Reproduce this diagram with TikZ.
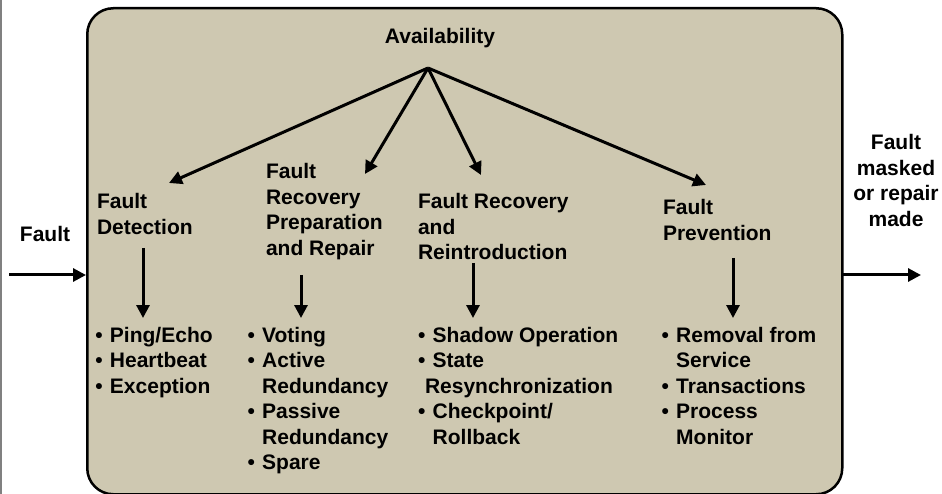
\documentclass[tikz,border=0pt]{standalone}
\usepackage{fontspec}
\setmainfont{Liberation Sans}
\usetikzlibrary{arrows.meta}
\definecolor{boxfill}{RGB}{206,200,177}
\newcommand{\bul}{\makebox[14.7pt][l]{\textbullet}}
\newcommand{\ind}{\hspace*{14.7pt}}
\begin{document}
\begin{tikzpicture}[x=1pt,y=-1pt,
  txt/.style={inner sep=0pt,outer sep=0pt,font=\fontsize{21}{25.5}\selectfont\bfseries,align=left,anchor=base west},
  ctxt/.style={txt,align=center,anchor=base},
  arr/.style={line width=3pt,-{Triangle[length=13pt,width=13pt]}}]
\useasboundingbox (0,0) rectangle (942,494);
\draw[gray,line width=1.5pt] (0.75,0) -- (0.75,494);
\node[draw=black,line width=2.5pt,fill=boxfill,rounded corners=26pt,minimum width=755pt,minimum height=486pt,anchor=north west,inner sep=0pt] (box) at (86,7) {};
\node[ctxt] (avail) at (440,44) {Availability};
\coordinate (apex) at (428,68);
% anchors are at the baseline of the last line
\node[txt] (det) at (97,234.5) {Fault\\Detection};
\node[txt] (prep) at (266,255.5) {Fault\\Recovery\\Preparation\\and Repair};
\node[txt] (rein) at (418,260) {Fault Recovery\\and\\Reintroduction};
\node[txt] (prev) at (663,240.5) {Fault\\Prevention};
\coordinate (tdet) at (169,183);
\coordinate (tprep) at (365,174);
\coordinate (trein) at (481,175);
\coordinate (tprev) at (706,185);
\draw[arr] (apex) -- (tdet);
\draw[arr] (apex) -- (tprep);
\draw[arr] (apex) -- (trein);
\draw[arr] (apex) -- (tprev);
\node[txt] (ldet) at (95.3,393) {\bul Ping/Echo\\\bul Heartbeat\\\bul Exception};
\node[txt] (lprep) at (247.5,469.5) {\bul Voting\\\bul Active\\\ind Redundancy\\\bul Passive\\\ind Redundancy\\\bul Spare};
\node[txt] (lrein) at (418,444) {\bul Shadow Operation\\\bul State\\\hspace*{7pt}Resynchronization\\\bul Checkpoint/\\\ind Rollback};
\node[txt] (lprev) at (661.5,444) {\bul Removal from\\\ind Service\\\bul Transactions\\\bul Process\\\ind Monitor};
\coordinate (sdet) at (143,248); \coordinate (edet) at (143,318);
\coordinate (sprep) at (301,275); \coordinate (eprep) at (301,318);
\coordinate (srein) at (473,263); \coordinate (erein) at (473,318);
\coordinate (sprev) at (733,258); \coordinate (eprev) at (733,318);
\draw[arr] (sdet) -- (edet);
\draw[arr] (sprep) -- (eprep);
\draw[arr] (srein) -- (erein);
\draw[arr] (sprev) -- (eprev);
\node[ctxt] (fin) at (45,242) {Fault};
\node[ctxt] (fout) at (896,226.5) {Fault\\masked\\or repair\\made};
\coordinate (lin) at (9,275); \coordinate (lbox) at (86,275);
\coordinate (rbox) at (841,275); \coordinate (rout) at (921,275);
\draw[arr] (lin) -- (lbox);
\draw[arr] (rbox) -- (rout);
\end{tikzpicture}
\end{document}
